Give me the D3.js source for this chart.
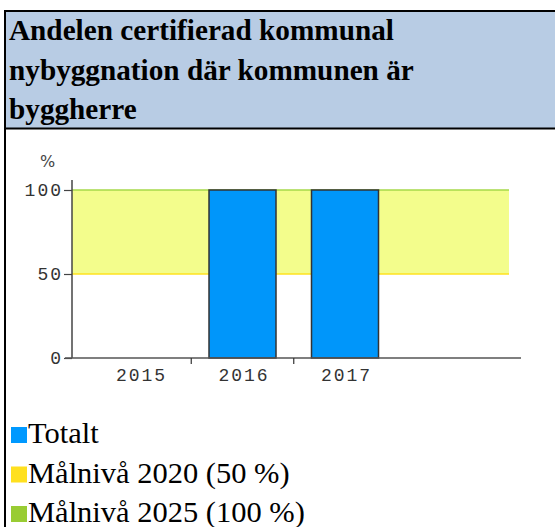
<!DOCTYPE html>
<html><head><meta charset="utf-8">
<script src="https://cdn.jsdelivr.net/npm/d3@7"></script>
<style>body{margin:0;background:#fff}svg{display:block}</style>
</head><body><svg id="c" width="555" height="527"></svg>
<script>
// ---- data ----
const titleLines = ["Andelen certifierad kommunal", "nybyggnation där kommunen är", "byggherre"];
const years = [2015, 2016, 2017];
const totalt = [null, 100, 100];
const yTicks = [0, 50, 100];
const yUnit = "%";
const target2020 = 50;
const target2025 = 100;
const legendLabels = ["Totalt", "Målnivå 2020 (50 %)", "Målnivå 2025 (100 %)"];
const legendColors = ["#0099ff", "#ffe01f", "#99cc33"];

// ---- layout ----
const svg = d3.select("#c");
const plot = {left: 72, right: 521, bandRight: 509, top: 180, bottom: 358};

// frame + title
svg.append("rect").attr("x", 5).attr("y", 11).attr("width", 550).attr("height", 117).attr("fill", "#b8cce4");
svg.append("line").attr("x1", 4).attr("x2", 555).attr("y1", 11).attr("y2", 11).attr("stroke", "#000").attr("stroke-width", 2);
svg.append("line").attr("x1", 4).attr("x2", 555).attr("y1", 128.5).attr("y2", 128.5).attr("stroke", "#000").attr("stroke-width", 2);
svg.append("line").attr("x1", 5).attr("x2", 5).attr("y1", 10).attr("y2", 527).attr("stroke", "#000").attr("stroke-width", 2);

const titleG = svg.append("g");
const tl = titleG.selectAll("text").data(titleLines).join("text")
  .attr("x", 9).attr("y", (d, i) => 40 + i * 39.5)
  .attr("font-family", "Liberation Serif, serif").attr("font-weight", "bold")
  .attr("font-size", 29).attr("fill", "#000").text(d => d);
{
  const w = tl.nodes()[0].getComputedTextLength();
  const fs = 29 * 385 / w;
  tl.attr("font-size", fs);
}

// scales
const x = d3.scaleLinear().domain([2015, 2017]).range([140, 345]);
const y = d3.scaleLinear().domain([0, 100]).range([358, 190]);
const step = x(2016) - x(2015);
const barW = 67;

// target band
svg.append("rect").attr("x", plot.left).attr("y", y(target2025))
  .attr("width", plot.bandRight - plot.left).attr("height", y(target2020) - y(target2025))
  .attr("fill", "#f3fd8c");
svg.append("line").attr("x1", plot.left).attr("x2", plot.bandRight)
  .attr("y1", y(target2025)).attr("y2", y(target2025)).attr("stroke", "#a6d84a").attr("stroke-width", 1.5);
svg.append("line").attr("x1", plot.left).attr("x2", plot.bandRight)
  .attr("y1", y(target2020)).attr("y2", y(target2020)).attr("stroke", "#ffe21f").attr("stroke-width", 1.5);

// bars
const barData = years.map((yr, i) => ({yr, v: totalt[i]})).filter(d => d.v != null);
svg.selectAll("rect.bar").data(barData).join("rect").attr("class", "bar")
  .attr("x", d => x(d.yr) - barW / 2).attr("width", barW)
  .attr("y", d => y(d.v)).attr("height", d => y(0) - y(d.v))
  .attr("fill", "#0096fa").attr("stroke", "#333").attr("stroke-width", 1.5);

// y axis
const yAxis = d3.axisLeft(y).tickValues(yTicks).tickSize(8).tickPadding(3).tickFormat(d3.format("d"));
const yg = svg.append("g").attr("transform", `translate(${plot.left},0)`).call(yAxis);
yg.select(".domain").remove();
yg.selectAll(".tick line").attr("stroke", "#444").attr("stroke-width", 1.2);
yg.selectAll(".tick text").attr("font-family", "Liberation Mono, monospace").attr("font-size", 18)
  .attr("letter-spacing", 2).attr("fill", "#333").attr("dx", 2);
svg.append("line").attr("x1", plot.left).attr("x2", plot.left).attr("y1", plot.top).attr("y2", plot.bottom)
  .attr("stroke", "#444").attr("stroke-width", 1.5);

// x axis
const xAxis = d3.axisBottom(x).tickValues(years).tickSize(0).tickPadding(10).tickFormat(d3.format("d"));
const xg = svg.append("g").attr("transform", `translate(0,${plot.bottom})`).call(xAxis);
xg.select(".domain").remove();
xg.selectAll(".tick text").attr("font-family", "Liberation Mono, monospace").attr("font-size", 18)
  .attr("letter-spacing", 2).attr("fill", "#333").attr("dx", 1);
svg.append("line").attr("x1", plot.left - 7).attr("x2", plot.right).attr("y1", plot.bottom).attr("y2", plot.bottom)
  .attr("stroke", "#555").attr("stroke-width", 1.5);
// category separators
svg.selectAll("line.sep").data(years.slice(0, -1)).join("line").attr("class", "sep")
  .attr("x1", d => x(d) + step / 2).attr("x2", d => x(d) + step / 2)
  .attr("y1", plot.bottom).attr("y2", plot.bottom + 6).attr("stroke", "#333").attr("stroke-width", 1.2);

// unit
svg.append("text").attr("x", 40).attr("y", 167).attr("font-family", "DejaVu Sans, sans-serif")
  .attr("font-size", 16).attr("fill", "#444").text(yUnit);

// legend
const lg = svg.append("g").selectAll("g").data(legendLabels).join("g")
  .attr("transform", (d, i) => `translate(11,${427 + i * 39.5})`);
lg.append("rect").attr("width", 16).attr("height", 16).attr("fill", (d, i) => legendColors[i]);
const lt = lg.append("text").attr("x", 17).attr("y", 16)
  .attr("font-family", "Liberation Serif, serif").attr("font-size", 28).attr("fill", "#000").text(d => d);
{
  const w = lt.nodes()[2].getComputedTextLength();
  lt.attr("font-size", 28 * 277 / w);
}
</script></body></html>
